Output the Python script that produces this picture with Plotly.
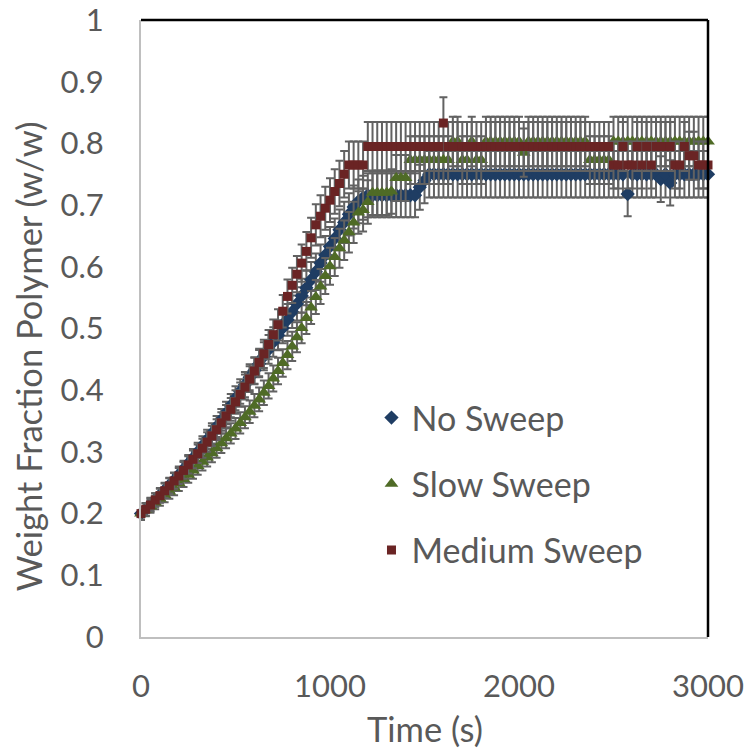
import plotly.graph_objects as go

# ---- data ----
time_s = list(range(0, 3001, 25))

no_sweep = [
    0.200, 0.207, 0.215, 0.222, 0.230, 0.238, 0.246, 0.254, 0.263, 0.272,
    0.281, 0.290, 0.300, 0.310, 0.320, 0.330, 0.341, 0.352, 0.363, 0.375,
    0.387, 0.398, 0.409, 0.421, 0.432, 0.443, 0.455, 0.466, 0.478, 0.489,
    0.501, 0.514, 0.527, 0.540, 0.553, 0.566, 0.579, 0.592, 0.606, 0.619,
    0.633, 0.646, 0.660, 0.672, 0.685, 0.697, 0.706, 0.712, 0.716, 0.716,
    0.716, 0.716, 0.716, 0.716, 0.716, 0.716, 0.716, 0.716, 0.716, 0.729,
    0.740, 0.750, 0.750, 0.750, 0.750, 0.750, 0.750, 0.750, 0.750, 0.750,
    0.750, 0.750, 0.750, 0.750, 0.750, 0.750, 0.750, 0.750, 0.750, 0.750,
    0.750, 0.750, 0.750, 0.750, 0.750, 0.750, 0.750, 0.750, 0.750, 0.750,
    0.750, 0.750, 0.750, 0.750, 0.750, 0.750, 0.750, 0.750, 0.750, 0.750,
    0.750, 0.750, 0.750, 0.718, 0.750, 0.750, 0.750, 0.750, 0.750, 0.750,
    0.742, 0.750, 0.736, 0.750, 0.750, 0.750, 0.750, 0.750, 0.750, 0.750,
    0.750,
]

slow_sweep = [
    0.200, 0.206, 0.212, 0.218, 0.224, 0.230, 0.236, 0.242, 0.249, 0.256,
    0.263, 0.270, 0.277, 0.284, 0.291, 0.298, 0.306, 0.314, 0.322, 0.330,
    0.338, 0.347, 0.356, 0.365, 0.375, 0.385, 0.396, 0.407, 0.419, 0.431,
    0.444, 0.457, 0.471, 0.486, 0.501, 0.517, 0.534, 0.551, 0.568, 0.585,
    0.601, 0.616, 0.630, 0.643, 0.656, 0.672, 0.688, 0.692, 0.705, 0.720,
    0.720, 0.720, 0.720, 0.722, 0.744, 0.744, 0.744, 0.773, 0.773, 0.773,
    0.773, 0.773, 0.773, 0.773, 0.773, 0.773, 0.803, 0.803, 0.773, 0.773,
    0.803, 0.773, 0.773, 0.803, 0.803, 0.803, 0.803, 0.803, 0.803, 0.803,
    0.803, 0.785, 0.803, 0.803, 0.803, 0.803, 0.803, 0.803, 0.803, 0.803,
    0.803, 0.803, 0.803, 0.803, 0.803, 0.773, 0.773, 0.773, 0.773, 0.773,
    0.803, 0.803, 0.803, 0.803, 0.803, 0.803, 0.803, 0.803, 0.803, 0.803,
    0.803, 0.803, 0.803, 0.803, 0.803, 0.803, 0.803, 0.803, 0.803, 0.803,
    0.803,
]

medium_sweep = [
    0.200, 0.207, 0.214, 0.222, 0.229, 0.237, 0.245, 0.253, 0.261, 0.270,
    0.279, 0.288, 0.297, 0.306, 0.316, 0.326, 0.336, 0.347, 0.358, 0.369,
    0.381, 0.393, 0.405, 0.418, 0.431, 0.445, 0.459, 0.474, 0.490, 0.506,
    0.528, 0.552, 0.570, 0.588, 0.606, 0.625, 0.647, 0.668, 0.682, 0.695,
    0.708, 0.722, 0.735, 0.750, 0.765, 0.765, 0.765, 0.765, 0.795, 0.795,
    0.795, 0.795, 0.795, 0.795, 0.795, 0.795, 0.795, 0.795, 0.795, 0.795,
    0.795, 0.795, 0.795, 0.795, 0.833, 0.795, 0.795, 0.795, 0.795, 0.795,
    0.795, 0.795, 0.795, 0.795, 0.795, 0.795, 0.795, 0.795, 0.795, 0.795,
    0.795, 0.795, 0.795, 0.795, 0.795, 0.795, 0.795, 0.795, 0.795, 0.795,
    0.795, 0.795, 0.795, 0.795, 0.795, 0.795, 0.795, 0.795, 0.795, 0.795,
    0.765, 0.765, 0.795, 0.765, 0.765, 0.795, 0.765, 0.795, 0.765, 0.795,
    0.795, 0.795, 0.795, 0.765, 0.765, 0.795, 0.780, 0.780, 0.765, 0.765,
    0.765,
]

error_percent = 5  # percentage error bars

series_names = ["No Sweep", "Slow Sweep", "Medium Sweep"]
series_values = [no_sweep, slow_sweep, medium_sweep]

y_tick_vals = [0, 0.1, 0.2, 0.3, 0.4, 0.5, 0.6, 0.7, 0.8, 0.9, 1]
y_tick_text = ["0", "0.1", "0.2", "0.3", "0.4", "0.5", "0.6", "0.7", "0.8", "0.9", "1"]
x_tick_vals = [0, 1000, 2000, 3000]
x_title = "Time (s)"
y_title = "Weight Fraction Polymer (w/w)"

# ---- styles ----
symbols = ["diamond", "triangle-up", "square"]
colors = ["#1F3D63", "#4F6B26", "#6A2424"]
sizes = [11, 12, 9]
FONT = "Lato"
TXT = "#595959"
FS_TICK = 31
FS_TITLE = 34.5
FS_LEG = 34

fig = go.Figure()
for name, vals, sym, col, sz in zip(series_names, series_values, symbols, colors, sizes):
    fig.add_trace(go.Scatter(
        x=time_s, y=vals, mode="markers", name=name, legendgroup=name,
        marker=dict(symbol=sym, color=col, size=sz, line=dict(width=0)),
        error_y=dict(type="percent", value=error_percent, color="#626262",
                     thickness=2, width=4),
        cliponaxis=False,
    ))

fig.update_layout(
    width=748, height=749,
    margin=dict(l=141, r=40, t=20, b=112, autoexpand=False),
    paper_bgcolor="white", plot_bgcolor="white",
    font=dict(family=FONT, size=FS_TICK, color=TXT),
    showlegend=True,
    legend=dict(x=0.4065, y=0.402, xanchor="left", yanchor="top",
                bgcolor="rgba(0,0,0,0)", borderwidth=0,
                traceorder="grouped", tracegroupgap=19,
                font=dict(family=FONT, size=FS_LEG, color=TXT),
                itemwidth=30),
    xaxis=dict(range=[0, 3000], tickvals=x_tick_vals, showgrid=False,
               zeroline=False, showline=True, linecolor="#BFBFBF", linewidth=2,
               ticks="outside", ticklen=21, tickcolor="rgba(0,0,0,0)",
               automargin=False, ticklabeloverflow="allow",
               tickfont=dict(family=FONT, size=FS_TICK, color=TXT)),
    yaxis=dict(range=[0, 1], tickvals=y_tick_vals, ticktext=y_tick_text,
               showgrid=False, zeroline=False, showline=True,
               linecolor="#BFBFBF", linewidth=2,
               ticks="outside", ticklen=29, tickcolor="rgba(0,0,0,0)",
               automargin=False, ticklabeloverflow="allow",
               tickfont=dict(family=FONT, size=FS_TICK, color=TXT)),
    annotations=[
        dict(text=x_title, xref="paper", yref="paper", x=0.5, y=-0.1475,
             xanchor="center", yanchor="middle", showarrow=False,
             font=dict(family=FONT, size=FS_TITLE, color=TXT)),
        dict(text=y_title, xref="paper", yref="paper", x=-0.1993, y=0.455,
             xanchor="center", yanchor="middle", showarrow=False, textangle=-90,
             font=dict(family=FONT, size=FS_TITLE, color=TXT)),
    ],
    shapes=[
        dict(type="line", xref="paper", yref="paper", x0=0, x1=1, y0=1, y1=1,
             line=dict(color="black", width=2.5)),
        dict(type="line", xref="paper", yref="paper", x0=1, x1=1, y0=0, y1=1,
             line=dict(color="black", width=2.5)),
    ],
)

fig.write_html("out.html")
